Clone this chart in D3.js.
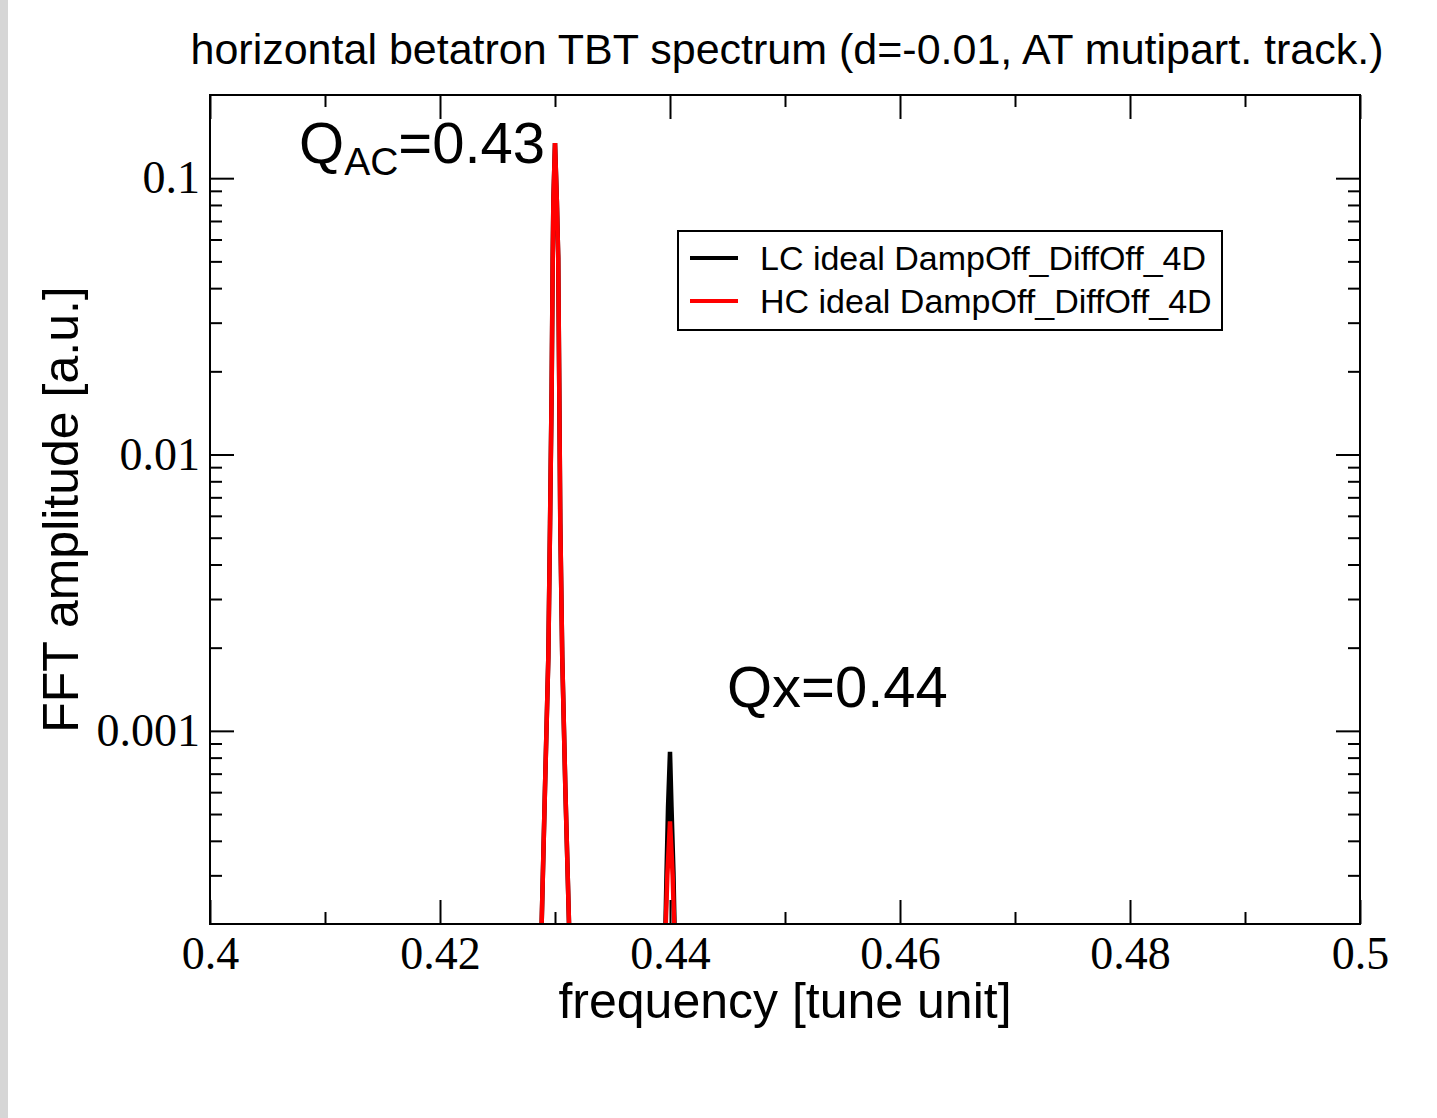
<!DOCTYPE html>
<html>
<head>
<meta charset="utf-8">
<script src="https://cdn.jsdelivr.net/npm/d3@7"></script>
<style>
  body { margin: 0; background: #fff; }
  svg { display: block; }
  .sans { font-family: "Liberation Sans", Arial, Helvetica, sans-serif; }
  .serif { font-family: "Liberation Serif", "Times New Roman", serif; }
  .axis path { display: none; }
  .axis line { stroke: #000; stroke-width: 2; }
</style>
</head>
<body>
<svg id="chart"></svg>
<script>
// LC series (black)
const freqLC = [0.4287, 0.42884, 0.42913, 0.42942, 0.42957, 0.42971, 0.42980, 0.42986, 0.43000, 0.43016, 0.43028, 0.43037, 0.43046, 0.43063, 0.43090, 0.43122, 0.4314,
                0.4395, 0.43961, 0.43970, 0.43983, 0.44000, 0.44013, 0.44030, 0.44039, 0.4405];
const ampLC = [0.00012, 0.0002, 0.00062, 0.00185, 0.00565, 0.0174, 0.0514, 0.083, 0.134, 0.083, 0.0514, 0.0174, 0.00565, 0.00185, 0.00062, 0.0002, 0.00012,
               0.00012, 0.0002, 0.000306, 0.00053, 0.00084, 0.00053, 0.000306, 0.0002, 0.00012];
// HC series (red)
const freqHC = [0.4287, 0.42884, 0.42913, 0.42942, 0.42957, 0.42971, 0.42980, 0.42986, 0.43000, 0.43016, 0.43028, 0.43037, 0.43046, 0.43063, 0.43090, 0.43122, 0.4314,
                0.4395, 0.43963, 0.43977, 0.44000, 0.44023, 0.44036, 0.4405];
const ampHC = [0.00012, 0.0002, 0.00062, 0.00185, 0.00565, 0.0174, 0.0514, 0.083, 0.134, 0.083, 0.0514, 0.0174, 0.00565, 0.00185, 0.00062, 0.0002, 0.00012,
               0.00012, 0.0002, 0.0003, 0.00047, 0.0003, 0.0002, 0.00012];

const seriesNames = ['LC ideal DampOff_DiffOff_4D', 'HC ideal DampOff_DiffOff_4D'];
const seriesColors = ['#000000', '#ff0000'];

const xMajor = [0.4, 0.42, 0.44, 0.46, 0.48, 0.5];
const xMinor = [0.41, 0.43, 0.45, 0.47, 0.49];
const yMajor = [0.1, 0.01, 0.001];
const yMinor = [0.09, 0.08, 0.07, 0.06, 0.05, 0.04, 0.03, 0.02,
                0.009, 0.008, 0.007, 0.006, 0.005, 0.004, 0.003, 0.002,
                0.0009, 0.0008, 0.0007, 0.0006, 0.0005, 0.0004, 0.0003];

const W = 1437, H = 1118;
const margin = { top: 95, left: 210, right: 77, bottom: 194 };
const width = W - margin.left - margin.right;
const height = H - margin.top - margin.bottom;

const svg = d3.select('#chart').attr('width', W).attr('height', H);

// grey strip on the left edge of the slide
svg.append('rect').attr('x', 0).attr('y', 0).attr('width', 8).attr('height', H).attr('fill', '#d6d6d6');

const g = svg.append('g').attr('transform', `translate(${margin.left},${margin.top})`);

const x = d3.scaleLinear().domain([0.4, 0.5]).range([0, width]);
const y = d3.scaleLog().domain([0.0002, 0.2]).range([height, 0]);

g.append('clipPath').attr('id', 'clip')
  .append('rect').attr('width', width).attr('height', height);

// data lines
const line = d3.line().x((d) => x(d[0])).y((d) => y(d[1]));
const lc = d3.zip(freqLC, ampLC);
const hc = d3.zip(freqHC, ampHC);
const lines = g.append('g').attr('clip-path', 'url(#clip)');
lines.append('path').datum(lc).attr('d', line)
  .attr('fill', 'none').attr('stroke', seriesColors[0]).attr('stroke-width', 4.5);
lines.append('path').datum(hc).attr('d', line)
  .attr('fill', 'none').attr('stroke', seriesColors[1]).attr('stroke-width', 4.5);

// axes: major ticks
const fmtX = (d) => d3.format('')(+d.toFixed(2));
g.append('g').attr('class', 'axis serif').attr('transform', `translate(0,${height})`)
  .call(d3.axisBottom(x).tickValues(xMajor).tickSize(-24).tickPadding(12).tickFormat(fmtX))
  .call((s) => s.selectAll('text').attr('font-size', 46).attr('fill', '#000').attr('font-family', null));
g.append('g').attr('class', 'axis').attr('transform', `translate(0,${height})`)
  .call(d3.axisBottom(x).tickValues(xMinor).tickSize(-12).tickFormat(''));
g.append('g').attr('class', 'axis')
  .call(d3.axisTop(x).tickValues(xMajor).tickSize(-24).tickFormat(''));
g.append('g').attr('class', 'axis')
  .call(d3.axisTop(x).tickValues(xMinor).tickSize(-12).tickFormat(''));

g.append('g').attr('class', 'axis serif')
  .call(d3.axisLeft(y).tickValues(yMajor).tickSize(-24).tickPadding(10).tickFormat((d) => String(d)))
  .call((s) => s.selectAll('text').attr('font-size', 46).attr('fill', '#000').attr('font-family', null));
g.append('g').attr('class', 'axis')
  .call(d3.axisLeft(y).tickValues(yMinor).tickSize(-12).tickFormat(''));
g.append('g').attr('class', 'axis').attr('transform', `translate(${width},0)`)
  .call(d3.axisRight(y).tickValues(yMajor).tickSize(-24).tickFormat(''));
g.append('g').attr('class', 'axis').attr('transform', `translate(${width},0)`)
  .call(d3.axisRight(y).tickValues(yMinor).tickSize(-12).tickFormat(''));

// frame
g.append('rect').attr('width', width).attr('height', height)
  .attr('fill', 'none').attr('stroke', '#000').attr('stroke-width', 2);

// titles
svg.append('text').attr('class', 'sans')
  .attr('x', 787).attr('y', 64).attr('text-anchor', 'middle').attr('font-size', 43)
  .text('horizontal betatron TBT spectrum (d=-0.01, AT mutipart. track.)');
svg.append('text').attr('class', 'sans')
  .attr('x', margin.left + width / 2).attr('y', 1018).attr('text-anchor', 'middle').attr('font-size', 50)
  .text('frequency [tune unit]');
svg.append('text').attr('class', 'sans')
  .attr('transform', `translate(78,${margin.top + height / 2}) rotate(-90)`)
  .attr('text-anchor', 'middle').attr('font-size', 50)
  .text('FFT amplitude [a.u.]');

// annotations
const qac = svg.append('text').attr('class', 'sans').attr('x', 299).attr('y', 163).attr('font-size', 58);
qac.append('tspan').text('Q');
qac.append('tspan').attr('font-size', 39).attr('dy', 12).text('AC');
qac.append('tspan').attr('dy', -12).text('=0.43');
svg.append('text').attr('class', 'sans').attr('x', 727).attr('y', 707).attr('font-size', 58).text('Qx=0.44');

// legend
const legend = svg.append('g').attr('transform', 'translate(678,231)');
legend.append('rect').attr('width', 544).attr('height', 99)
  .attr('fill', '#fff').attr('stroke', '#000').attr('stroke-width', 2);
seriesNames.forEach((name, i) => {
  const row = legend.append('g').attr('transform', `translate(0,${27 + i * 43})`);
  row.append('line').attr('x1', 12).attr('x2', 60).attr('y1', 0).attr('y2', 0)
    .attr('stroke', seriesColors[i]).attr('stroke-width', 4);
  row.append('text').attr('class', 'sans').attr('x', 82).attr('y', 12).attr('font-size', 34).text(name);
});
</script>
</body>
</html>
